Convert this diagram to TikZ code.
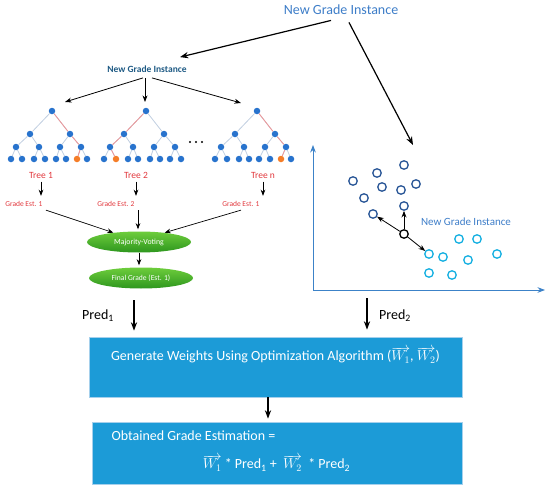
\documentclass[tikz,border=0pt]{standalone}
\usepackage{fontspec}
\setmainfont{Carlito}
\usepackage{tikz}
\usetikzlibrary{arrows.meta,shapes,positioning,calc}

\definecolor{instblue}{RGB}{61,125,200}
\definecolor{subblue}{RGB}{30,90,132}
\definecolor{dotblue}{RGB}{40,115,205}
\definecolor{dotorange}{RGB}{245,125,40}
\definecolor{edgegray}{RGB}{192,206,224}
\definecolor{pathred}{RGB}{240,150,150}
\definecolor{treered}{RGB}{225,55,60}
\definecolor{boxblue}{RGB}{28,155,215}
\definecolor{boxedge}{RGB}{165,208,236}
\definecolor{ptdark}{RGB}{40,85,150}
\definecolor{ptcyan}{RGB}{20,175,225}
\definecolor{axisblue}{RGB}{60,130,200}
\definecolor{leaflight}{RGB}{110,205,60}
\definecolor{leafdark}{RGB}{45,150,30}

\begin{document}
\begin{tikzpicture}[>=Stealth,x=1pt,y=-1pt,
    dot/.style={circle,fill=#1,inner sep=0pt,minimum size=6.5pt},
    dot/.default=dotblue,
    branch/.style={edgegray,line width=0.8pt},
    hitpath/.style={pathred,line width=0.8pt},
    sample/.style={circle,draw=#1,line width=1.3pt,minimum size=8.5pt,inner sep=0pt},
    treelab/.style={text=treered,font=\fontsize{9.5}{11}\selectfont},
    estlab/.style={text=treered,font=\fontsize{7.5}{9}\selectfont,anchor=east},
    vote/.style={ellipse,top color=leaflight,bottom color=leafdark,text=white,
        font=\fontsize{7.8}{9}\selectfont,minimum width=104pt,minimum height=21pt,inner sep=0pt},
    wbox/.style={rectangle,fill=boxblue,draw=boxedge,line width=0.8pt,inner sep=0pt},
    big/.style={font=\fontsize{14}{16}\selectfont}]
    \useasboundingbox (0,0) rectangle (550,490);

    % instance on top
    \node[big,text=instblue] (top) at (341,10) {New Grade Instance};
    \node[text=subblue,font=\bfseries\fontsize{9.5}{11}\selectfont] (sub) at (147,69) {New Grade Instance};
    \coordinate (knn) at (413,145);
    \draw[->,line width=1.2pt] ($(top.south)+(-10,2)$) -- ($(sub.north)+(33,-5)$);
    \draw[->,line width=1.2pt] ($(top.south)+(8,4)$) -- (knn);

    % tree 1
    \begin{scope}[shift={(52,111)}]
        \node[dot] (a-r) at (0,0) {};
        \node[dot] (a-1) at (-22,23) {};
        \node[dot] (a-2) at (18,23) {};
        \node[dot] (a-11) at (-36,36) {};
        \node[dot] (a-12) at (-13,36) {};
        \node[dot] (a-21) at (8,36) {};
        \node[dot] (a-22) at (29,36) {};
        \foreach \n/\x/\c in {111/-41/dotblue,112/-30/dotblue,121/-18/dotblue,122/-7/dotblue,
            211/4/dotblue,212/14/dotblue,221/25/dotorange,222/35/dotblue}
            \node[dot=\c] (a-\n) at (\x,48) {};
        \foreach \u/\v in {r/1,r/2,1/11,1/12,2/21,2/22,11/111,11/112,12/121,12/122,21/211,21/212,22/221,22/222}
            \draw[branch] (a-\u) -- (a-\v);
        \draw[hitpath] (a-r) -- (a-2) -- (a-22) -- (a-221);
    \end{scope}

    % tree 2
    \begin{scope}[shift={(146,111)}]
        \node[dot] (b-r) at (0,0) {};
        \node[dot] (b-1) at (-22,23) {};
        \node[dot] (b-2) at (18,23) {};
        \node[dot] (b-11) at (-36,36) {};
        \node[dot] (b-12) at (-13,36) {};
        \node[dot] (b-21) at (8,36) {};
        \node[dot] (b-22) at (29,36) {};
        \foreach \n/\x/\c in {111/-42/dotblue,112/-30/dotorange,121/-18/dotblue,122/-8/dotblue,
            211/4/dotblue,212/14/dotblue,221/24/dotblue,222/35/dotblue}
            \node[dot=\c] (b-\n) at (\x,48) {};
        \foreach \u/\v in {r/1,r/2,1/11,1/12,2/21,2/22,11/111,11/112,12/121,12/122,21/211,21/212,22/221,22/222}
            \draw[branch] (b-\u) -- (b-\v);
        \draw[hitpath] (b-r) -- (b-1) -- (b-11) -- (b-112);
    \end{scope}

    % tree n
    \begin{scope}[shift={(257,111)}]
        \node[dot] (c-r) at (0,0) {};
        \node[dot] (c-1) at (-22,23) {};
        \node[dot] (c-2) at (18,23) {};
        \node[dot] (c-11) at (-36,36) {};
        \node[dot] (c-12) at (-13,36) {};
        \node[dot] (c-21) at (8,36) {};
        \node[dot] (c-22) at (29,36) {};
        \foreach \n/\x/\c in {111/-42/dotblue,112/-30/dotblue,121/-18/dotblue,122/-8/dotblue,
            211/2/dotblue,212/13/dotblue,221/24/dotorange,222/34/dotblue}
            \node[dot=\c] (c-\n) at (\x,48) {};
        \foreach \u/\v in {r/1,r/2,1/11,1/12,2/21,2/22,11/111,11/112,12/121,12/122,21/211,21/212,22/221,22/222}
            \draw[branch] (c-\u) -- (c-\v);
        \draw[hitpath] (c-r) -- (c-2) -- (c-22) -- (c-221);
    \end{scope}

    \fill (190,142) circle (1.2) (196,142) circle (1.2) (202,142) circle (1.2);

    \draw[->,line width=0.8pt] ($(sub.south)+(-4,2)$) -- ($(a-r)+(13,-9)$);
    \draw[->,line width=0.8pt] ($(sub.south)+(-2,2)$) -- ($(b-r)+(-1,-9)$);
    \draw[->,line width=0.8pt] ($(sub.south)+(5,2)$) -- ($(c-r)+(-16,-8)$);

    % votes
    \node[treelab] (t1) at (41,175) {Tree 1};
    \node[treelab] (t2) at (136,175) {Tree 2};
    \node[treelab] (t3) at (263,175) {Tree n};
    \node[estlab] (g1) at (46,204) {Grade Est. 1};
    \node[estlab] (g2) at (138,204) {Grade Est. 2};
    \node[estlab] (g3) at (263,204) {Grade Est. 1};
    \node[vote] (mv) at (139,242) {Majority-Voting};
    \node[vote,font=\fontsize{7.6}{9}\selectfont] (fg) at (141,278) {Final Grade (Est. 1)};
    \foreach \t/\g in {t1/g1,t2/g2,t3/g3}
        \draw[->,line width=0.7pt,shorten >=2pt] (\t.south) -- (\t.south |- \g.north);
    \draw[->,line width=0.7pt] (g1.south east) -- (mv.160);
    \draw[->,line width=0.7pt,shorten >=2pt] (g2.south east) -- (g2.south east |- mv.north);
    \draw[->,line width=0.7pt] (g3.south) -- (mv.20);
    \draw[->,line width=0.7pt,shorten >=2pt] (mv.south) -- (mv.south |- fg.north);

    % knn plot
    \coordinate (o) at (313,290);
    \coordinate (ytop) at (313,145);
    \coordinate (xend) at (545,290);
    \draw[->,axisblue,line width=1pt] (o) -- (ytop);
    \draw[->,axisblue,line width=1pt] (o) -- (xend);
    \foreach \n/\x/\y in {1/404/165,2/377/173,3/353/181,4/382/187,5/401/190,6/416/184,7/364/198,8/404/206,9/373/214}
        \node[sample=ptdark] (d\n) at (\x,\y) {};
    \foreach \n/\x/\y in {1/459/239,2/477/239,3/497/254,4/429/254,5/443/257,6/468/260,7/429/273,8/452/275}
        \node[sample=ptcyan] (e\n) at (\x,\y) {};
    \node[sample=black] (q) at (404,234) {};
    \node[text=instblue,font=\fontsize{11}{13}\selectfont] (nl) at (466,222) {New Grade Instance};
    \draw[->,line width=0.8pt] (q) -- (d8);
    \draw[->,line width=0.8pt] (q) -- (d9);
    \draw[->,line width=0.8pt] (q) -- (e4);

    % weights
    \node[wbox,minimum width=373pt,minimum height=60pt] (box1) at (275.5,367) {};
    \node[big,text=white] (box1-t) at (275.5,355)
        {Generate Weights Using Optimization Algorithm ($\overrightarrow{W_1}$, $\overrightarrow{W_2}$)};
    \node[wbox,minimum width=370pt,minimum height=62pt] (box2) at (277,453) {};
    \node[big,text=white,anchor=west] (box2-t) at (108,436) {Obtained Grade Estimation =};
    \node[big,text=white] (box2-f) at (276.5,463)
        {$\overrightarrow{W_1}$ * Pred\textsubscript{1} + \ $\overrightarrow{W_2}$ \ * Pred\textsubscript{2}};

    \coordinate (p1) at (134,300);
    \coordinate (p2) at (367,298);
    \coordinate (m1) at ($(box1.south)+(-7.5,0)$);
    \draw[->,line width=1.2pt,shorten >=6pt] (p1) -- (p1 |- box1.north);
    \draw[->,line width=1.2pt,shorten >=7pt] (p2) -- (p2 |- box1.north);
    \node[big] (pr1) at (98,316) {Pred\textsubscript{1}};
    \node[big] (pr2) at (395,316) {Pred\textsubscript{2}};
    \draw[->,line width=1.2pt,shorten >=3pt] (m1) -- (m1 |- box2.north);
\end{tikzpicture}
\end{document}
